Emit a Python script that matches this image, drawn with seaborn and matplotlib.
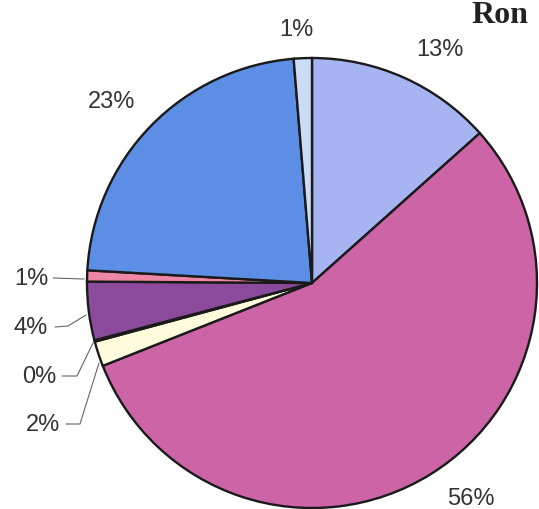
import numpy as np
import matplotlib
matplotlib.use("Agg")
import matplotlib.pyplot as plt
import seaborn as sns

sns.set_style("white")
plt.rcParams['font.family'] = ['Liberation Sans', 'DejaVu Sans']

# slices clockwise from 12 o'clock
shares = [13.4, 55.6, 1.8, 0.1, 4.2, 0.8, 22.8, 1.3]
labels = ['13%', '56%', '2%', '0%', '4%', '1%', '23%', '1%']
colors = ['#a6b4f2', '#cc64a6', '#fffbdc', '#9fd6f0', '#8c4a9c', '#ee86a6', '#5b8ee4', '#ccdcf6']

W, H = 539, 510
fig = plt.figure(figsize=(W / 100, H / 100), dpi=100)
ax = fig.add_axes([0, 0, 1, 1])

cx, cy, r = 312, H - 284, 225
ax.pie(shares, colors=colors, startangle=90, counterclock=False,
       center=(cx, cy), radius=r,
       wedgeprops=dict(edgecolor='#1a1a1a', linewidth=1.7))
ax.set_xlim(0, W)
ax.set_ylim(0, H)
ax.set_aspect('equal')
ax.axis('off')

# label positions (pixel coords, top-left origin) and leader lines
label_pos = {0: (440, 50), 1: (471, 499), 2: (43, 425), 3: (39, 377),
             4: (31, 328), 5: (31, 279), 6: (112, 102), 7: (296, 30)}
leaders = {5: [(53, 279), (84, 280)],
           4: [(55, 328), (68, 327), (86, 316)],
           3: [(62, 377), (77, 377), (93, 344)],
           2: [(66, 425), (80, 425), (99, 364)]}

for i, lab in enumerate(labels):
    x, y = label_pos[i]
    ax.text(x, H - y, lab, ha='center', va='center', fontsize=17, color='#333333')
for i, pts in leaders.items():
    xs = [p[0] for p in pts]
    ys = [H - p[1] for p in pts]
    ax.plot(xs, ys, color='#666666', lw=0.8)

ax.text(471, H - 23, 'Ron', ha='left', va='baseline', fontsize=23, fontweight='bold',
        family=['Liberation Serif', 'DejaVu Serif'], color='#222222')

fig.savefig('out.png', dpi=100)
